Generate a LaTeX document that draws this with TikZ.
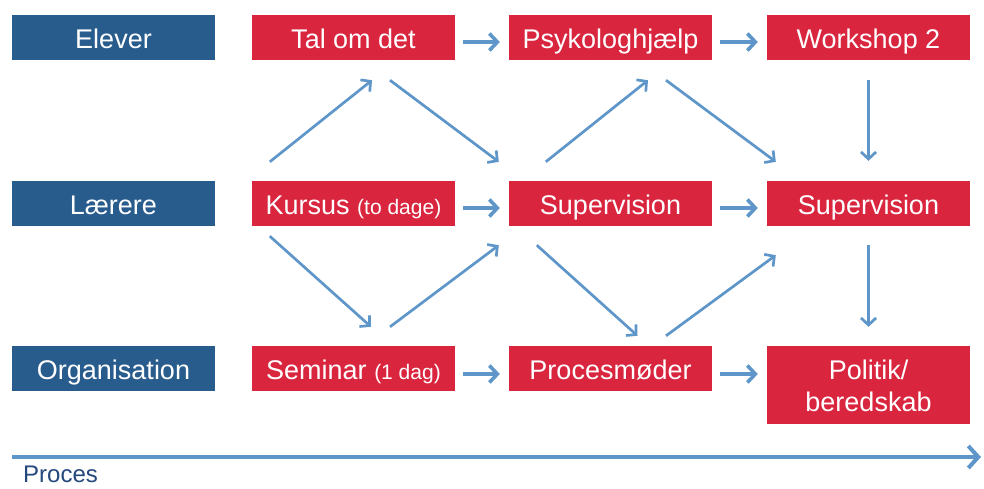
\documentclass[tikz,border=0pt]{standalone}
\usepackage{fontspec}
\setmainfont{Liberation Sans}
\usetikzlibrary{arrows.meta}
\definecolor{grpblue}{HTML}{285C8D}
\definecolor{actred}{HTML}{D9253E}
\definecolor{flowblue}{HTML}{5E96C9}
\definecolor{procblue}{HTML}{24487C}
\newcommand{\lille}[1]{{\fontsize{21}{24}\selectfont #1}}

\begin{document}
\begin{tikzpicture}[x=1pt,y=-1pt,
  box/.style={minimum width=203pt,minimum height=45pt,inner sep=0pt,text=white,
    font=\fontsize{27}{32}\selectfont,text height=21pt,text depth=0pt},
  grp/.style={box,fill=grpblue},
  act/.style={box,fill=actred},
  flow/.style={draw=flowblue,line width=3.6pt,-{Straight Barb[length=8pt,width=17pt]}},
  diag/.style={draw=flowblue,line width=2.7pt,-{Straight Barb[length=7pt,width=15pt]}}]
\useasboundingbox (0,0) rectangle (984,488);

% groups
\node[grp] (elever) at (113.5,37.5) {Elever};
\node[grp] (laerere) at (113.5,203.5) {Lærere};
\node[grp] (org) at (113.5,368.5) {Organisation};

% activities
\node[act] (tal) at (353.5,37.5) {Tal om det};
\node[act] (psyk) at (610.5,37.5) {Psykologhjælp};
\node[act] (work) at (868.5,37.5) {Workshop 2};
\node[act] (kursus) at (353.5,203.5) {Kursus \lille{(to dage)}};
\node[act] (sup2) at (610.5,203.5) {Supervision};
\node[act] (sup3) at (868.5,203.5) {Supervision};
\node[act] (seminar) at (353.5,368.5) {Seminar \lille{(1 dag)}};
\node[act] (moeder) at (610.5,368.5) {Procesmøder};
\node[act,minimum height=78pt,align=center,text height=53pt] (politik) at (868.5,385) {Politik/\\beredskab};

% straight arrows
\draw[flow] ([shift={(8,4.5)}]tal.east) -- ([shift={(-9,4.5)}]psyk.west);
\draw[flow] ([shift={(8,4.5)}]psyk.east) -- ([shift={(-9,4.5)}]work.west);
\draw[flow] ([shift={(8,4.5)}]kursus.east) -- ([shift={(-9,4.5)}]sup2.west);
\draw[flow] ([shift={(8,4.5)}]sup2.east) -- ([shift={(-9,4.5)}]sup3.west);
\draw[flow] ([shift={(8,5.5)}]seminar.east) -- ([shift={(-9,5.5)}]moeder.west);
\draw[flow] ([shift={(8,5.5)}]moeder.east) -- ([shift={(-9,-11)}]politik.west);
\draw[diag] ([shift={(0,20)}]work.south) -- ([shift={(0,-20)}]sup3.north);
\draw[diag] ([shift={(0,19)}]sup3.south) -- ([shift={(0,-19)}]politik.north);

% diagonal arrows
\draw[diag] ([shift={(18,-19)}]kursus.north west) -- ([shift={(18.5,20)}]tal.south);
\draw[diag] ([shift={(36.5,20)}]tal.south) -- ([shift={(-10,-19)}]sup2.north west);
\draw[diag] ([shift={(37,-19)}]sup2.north west) -- ([shift={(37.5,20)}]psyk.south);
\draw[diag] ([shift={(55.5,20)}]psyk.south) -- ([shift={(9,-19)}]sup3.north west);
\draw[diag] ([shift={(18,10)}]kursus.south west) -- ([shift={(17.5,-19)}]seminar.north);
\draw[diag] ([shift={(36.5,-19)}]seminar.north) -- ([shift={(-10,19)}]sup2.south west);
\draw[diag] ([shift={(28,19)}]sup2.south west) -- ([shift={(27,-10)}]moeder.north);
\draw[diag] ([shift={(55.5,-10)}]moeder.north) -- ([shift={(9,29)}]sup3.south west);

% process
\coordinate (pstart) at (12,457);
\coordinate (pend) at (981,457);
\draw[flow,line width=4pt,-{Straight Barb[length=10pt,width=22pt]}] (pstart) -- (pend);
\node[anchor=base west,inner sep=0pt,text=procblue,font=\fontsize{24}{28}\selectfont] (plbl) at (23,482) {Proces};
\end{tikzpicture}
\end{document}
